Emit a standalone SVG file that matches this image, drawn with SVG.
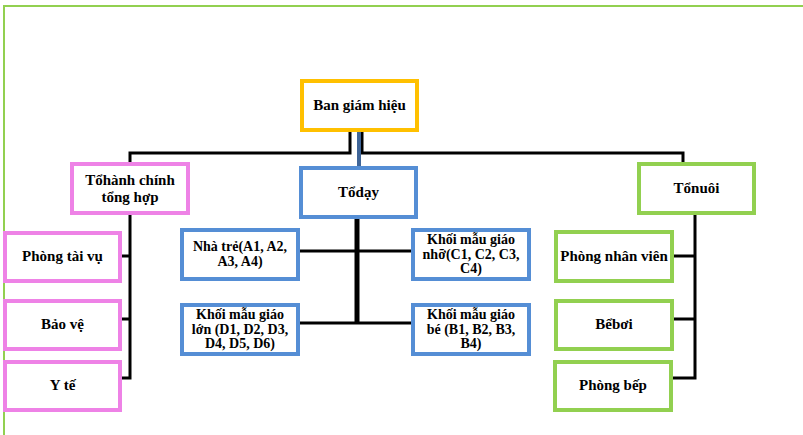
<svg xmlns="http://www.w3.org/2000/svg" width="803" height="435" viewBox="0 0 803 435">
<style>
text{font-family:"Liberation Serif","Times New Roman",serif;font-weight:bold;font-size:15px;fill:#000;text-anchor:middle}
text.s{font-size:14px}
.box{fill:#fff;stroke-width:4}
.o{stroke:#FFC000}
.p{stroke:#EE82E6}
.b{stroke:#558ED5}
.g{stroke:#92D050}
.c{fill:none;stroke:#000;stroke-width:3}
</style>
<rect width="803" height="435" fill="#fff"/>
<path d="M803 6H4V435" fill="none" stroke="#92D050" stroke-width="2"/>
<g id="connectors">
<path class="c" d="M350 130V153H130V164"/>
<path class="c" d="M362 130V153H683V164"/>
<path d="M359 130V168" stroke="#3F6598" stroke-width="4" fill="none"/>
<path class="c" d="M130 213V378H120M120 256H130M120 319H130"/>
<path d="M357 217V324" stroke="#000" stroke-width="5" fill="none"/>
<path class="c" d="M298 251H413M298 323H413"/>
<path class="c" d="M695 213V378H671M672 256H695M672 319H695"/>
</g>
<g id="ban-giam-hieu"><rect class="box o" x="302" y="81" width="115" height="49"/><text x="359.5" y="110">Ban giám hiệu</text></g>
<g id="to-hanh-chinh"><rect class="box p" x="72" y="164" width="116" height="49"/><text x="130" y="185">Tổhành chính</text><text x="130" y="202">tổng hợp</text></g>
<g id="to-day"><rect class="box b" x="301" y="168" width="115" height="49"/><text x="358.5" y="197">Tổdạy</text></g>
<g id="to-nuoi"><rect class="box g" x="639" y="164" width="115" height="49"/><text x="696.5" y="193">Tổnuôi</text></g>
<g id="phong-tai-vu"><rect class="box p" x="5" y="233" width="115" height="48"/><text x="62.5" y="261">Phòng tài vụ</text></g>
<g id="bao-ve"><rect class="box p" x="5" y="301" width="115" height="48"/><text x="62.5" y="329">Bảo vệ</text></g>
<g id="y-te"><rect class="box p" x="5" y="362" width="115" height="48"/><text x="62.5" y="390">Y tế</text></g>
<g id="nha-tre"><rect class="box b" x="182" y="230" width="116" height="49"/><text class="s" x="240" y="251">Nhà trẻ(A1, A2,</text><text class="s" x="240" y="266">A3, A4)</text></g>
<g id="mau-giao-lon"><rect class="box b" x="182" y="305" width="116" height="49"/><text class="s" x="240" y="319">Khối mẫu giáo</text><text class="s" x="240" y="333.5">lớn (D1, D2, D3,</text><text class="s" x="240" y="348">D4, D5, D6)</text></g>
<g id="mau-giao-nho"><rect class="box b" x="413" y="230" width="116" height="49"/><text class="s" x="471" y="244">Khối mẫu giáo</text><text class="s" x="471" y="258.5">nhỡ(C1, C2, C3,</text><text class="s" x="471" y="273">C4)</text></g>
<g id="mau-giao-be"><rect class="box b" x="413" y="305" width="116" height="49"/><text class="s" x="471" y="319">Khối mẫu giáo</text><text class="s" x="471" y="333.5">bé (B1, B2, B3,</text><text class="s" x="471" y="348">B4)</text></g>
<g id="phong-nhan-vien"><rect class="box g" x="556" y="232" width="116" height="49"/><text x="614" y="261">Phòng nhân viên</text></g>
<g id="be-boi"><rect class="box g" x="556" y="301" width="116" height="48"/><text x="614" y="329">Bểbơi</text></g>
<g id="phong-bep"><rect class="box g" x="555" y="362" width="116" height="48"/><text x="613" y="390">Phòng bếp</text></g>
</svg>
